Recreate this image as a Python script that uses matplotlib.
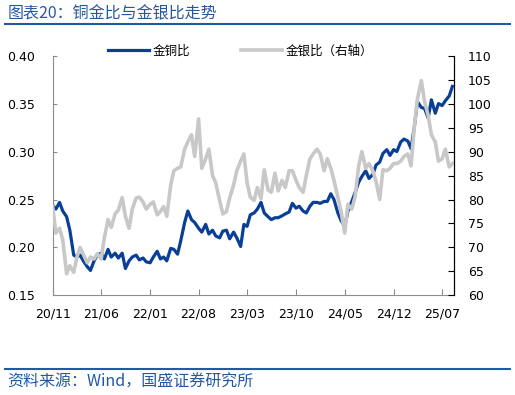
import matplotlib
matplotlib.use("Agg")
import matplotlib.pyplot as plt
import matplotlib.dates as mdates
from matplotlib.lines import Line2D
import pandas as pd

CJK = ["Noto Sans CJK SC", "DejaVu Sans"]

# half-monthly readings, starting 2020-11-01
cu_gold = [0.244, 0.240, 0.247, 0.238, 0.232, 0.218, 0.192, 0.190, 0.192, 0.186,
           0.180, 0.176, 0.186, 0.192, 0.194, 0.188, 0.198, 0.190, 0.194, 0.189,
           0.194, 0.178, 0.186, 0.190, 0.192, 0.187, 0.189, 0.185, 0.184, 0.190,
           0.196, 0.188, 0.190, 0.186, 0.199, 0.198, 0.193, 0.207, 0.226, 0.238,
           0.229, 0.226, 0.220, 0.216, 0.224, 0.214, 0.218, 0.212, 0.210, 0.217,
           0.218, 0.209, 0.216, 0.210, 0.201, 0.224, 0.222, 0.234, 0.236, 0.240,
           0.247, 0.236, 0.232, 0.229, 0.231, 0.231, 0.233, 0.235, 0.237, 0.246,
           0.241, 0.243, 0.238, 0.236, 0.243, 0.247, 0.247, 0.246, 0.248, 0.248,
           0.256, 0.250, 0.236, 0.228, 0.222, 0.238, 0.248, 0.257, 0.268, 0.274,
           0.280, 0.272, 0.276, 0.286, 0.289, 0.298, 0.302, 0.296, 0.302, 0.300,
           0.310, 0.313, 0.311, 0.303, 0.325, 0.352, 0.346, 0.345, 0.335, 0.354,
           0.340, 0.350, 0.348, 0.353, 0.358, 0.368]

gold_silver = [78.5, 73.0, 74.0, 71.6, 64.5, 66.2, 64.8, 68.0, 70.0, 68.6,
               66.8, 68.0, 67.6, 68.7, 67.6, 72.0, 75.8, 74.2, 77.0, 77.8,
               80.4, 76.5, 74.0, 78.0, 80.3, 80.5, 79.5, 78.0, 79.0, 79.5,
               76.8, 77.5, 78.5, 76.5, 83.0, 86.0, 86.5, 86.8, 90.5, 92.0,
               93.5, 89.0, 96.8, 86.5, 88.5, 90.5, 85.0, 83.5, 79.8, 77.0,
               77.5, 80.3, 83.0, 86.0, 88.0, 89.5, 83.5, 80.5, 79.8, 82.5,
               80.2, 86.2, 82.0, 81.5, 85.5, 81.8, 84.0, 82.5, 86.0, 86.0,
               84.0, 82.5, 81.5, 85.0, 88.5, 89.5, 90.5, 89.5, 86.0, 88.5,
               86.5, 84.0, 80.5, 77.5, 73.0, 79.0, 78.0, 80.5, 87.0, 90.0,
               86.5, 87.5, 86.0, 83.8, 80.0, 86.2, 86.0, 86.5, 87.5, 87.5,
               88.0, 89.0, 89.5, 87.0, 95.0, 101.0, 104.8, 100.5, 97.5, 93.5,
               92.0, 88.0, 88.5, 90.5, 86.8, 87.5]

dates = pd.date_range("2020-11-01", periods=len(cu_gold), freq="SMS")
xticks = pd.date_range("2020-11-01", "2025-07-01", freq="7MS")

left_ticks = [0.15, 0.20, 0.25, 0.30, 0.35, 0.40]
right_ticks = [60, 65, 70, 75, 80, 85, 90, 95, 100, 105, 110]

fig = plt.figure(figsize=(5.15, 3.95), dpi=100)
ax = fig.add_axes([0.1023, 0.2522, 0.7793, 0.6068])
ax2 = ax.twinx()

l1, = ax.plot(dates, cu_gold, color="#0A3F96", lw=2.3, label="金铜比")
l2, = ax2.plot(dates, gold_silver, color="#C8C8C8", lw=2.6, label="金银比（右轴）")

ax.set_xlim(pd.Timestamp("2020-11-01"), pd.Timestamp("2025-08-22"))
ax.set_ylim(0.15, 0.40)
ax2.set_ylim(60, 110)
ax.set_yticks(left_ticks)
ax.set_yticklabels(["%.2f" % v for v in left_ticks])
ax2.set_yticks(right_ticks)
ax.set_xticks(xticks)
ax.xaxis.set_major_formatter(mdates.DateFormatter("%y/%m"))

for a in (ax, ax2):
    a.spines["top"].set_visible(False)
ax.spines["left"].set_color("#8C8C8C")
ax.spines["bottom"].set_color("#8C8C8C")
ax2.spines["left"].set_visible(False)
ax2.spines["bottom"].set_visible(False)
ax2.spines["right"].set_color("black")

ax.tick_params(axis="x", direction="in", length=4, color="#8C8C8C",
               labelsize=9, pad=9)
ax.tick_params(axis="y", direction="in", length=3, color="#8C8C8C",
               labelsize=9, pad=13)
ax2.tick_params(axis="y", direction="in", length=4, color="black",
                labelsize=9, pad=10)

fig.legend([l1, l2], ["金铜比", "金银比（右轴）"], loc="center",
           bbox_to_anchor=(0.467, 0.871), ncol=2, frameon=False,
           prop={"family": CJK, "size": 9}, handlelength=3.3,
           handletextpad=0.3, columnspacing=4.0, borderpad=0)

fig.text(0.014, 0.966, "图表20：铜金比与金银比走势", color="#2457A4",
         fontsize=11.5, family=CJK, va="center", ha="left")
fig.add_artist(Line2D([0.01, 0.99], [0.939, 0.939], color="#1F5AA6",
                      lw=1.5, transform=fig.transFigure))
fig.add_artist(Line2D([0.01, 0.99], [0.0646, 0.0646], color="#1F5AA6",
                      lw=1.5, transform=fig.transFigure))
fig.text(0.014, 0.033, "资料来源：Wind，国盛证券研究所", color="#2457A4",
         fontsize=11.5, family=CJK, va="center", ha="left")

fig.savefig("out.png", dpi=100)
